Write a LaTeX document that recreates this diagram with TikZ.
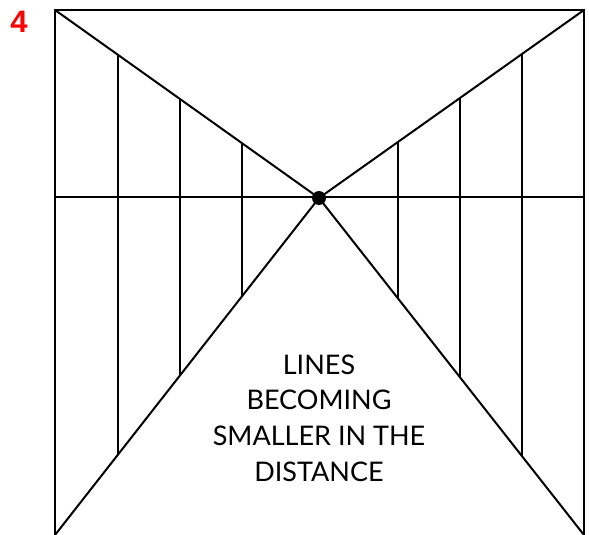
\documentclass[tikz,border=0pt]{standalone}
\usepackage{fontspec}
\setmainfont{Lato}
\newfontfamily\numfont{Liberation Sans}
\begin{document}
\begin{tikzpicture}[x=1pt,y=-1pt,
  edge/.style={line width=2pt,black},
  vline/.style={line width=1.8pt,black},
  lbl/.style={align=center,font=\fontsize{27}{35.7}\selectfont,inner sep=0pt}]
\useasboundingbox (0,0) rectangle (589,535);
\coordinate (tl) at (55,10);
\coordinate (tr) at (584,10);
\coordinate (bl) at (55,535);
\coordinate (br) at (584,535);
\node[circle,fill=black,inner sep=0pt,minimum size=14pt] (vp) at (319,198) {};
\coordinate (hl) at (55,197);
\coordinate (hr) at (584,197);
\draw[edge] (bl) -- (tl) -- (tr) -- (br);
\draw[edge] (hl) -- (hr);
\draw[edge] (tl) -- (vp.center);
\draw[edge] (tr) -- (vp.center);
\draw[edge] (bl) -- (vp.center);
\draw[edge] (br) -- (vp.center);
% verticals
\coordinate (l1t) at (118,55); \coordinate (l1b) at (118,455);
\coordinate (l2t) at (180,99); \coordinate (l2b) at (180,375);
\coordinate (l3t) at (242,143); \coordinate (l3b) at (242,296);
\coordinate (r1t) at (398,142); \coordinate (r1b) at (398,298);
\coordinate (r2t) at (460,98); \coordinate (r2b) at (460,377);
\coordinate (r3t) at (522,54); \coordinate (r3b) at (522,456);
\foreach \a in {l1,l2,l3,r1,r2,r3} \draw[vline] (\a t) -- (\a b);
\node[lbl] (txt) at (319,418) {LINES\\BECOMING\\SMALLER IN THE\\DISTANCE};
\node[font=\numfont\bfseries\fontsize{31}{32}\selectfont,text=red,inner sep=0pt] (num) at (19,22) {4};
\end{tikzpicture}
\end{document}
